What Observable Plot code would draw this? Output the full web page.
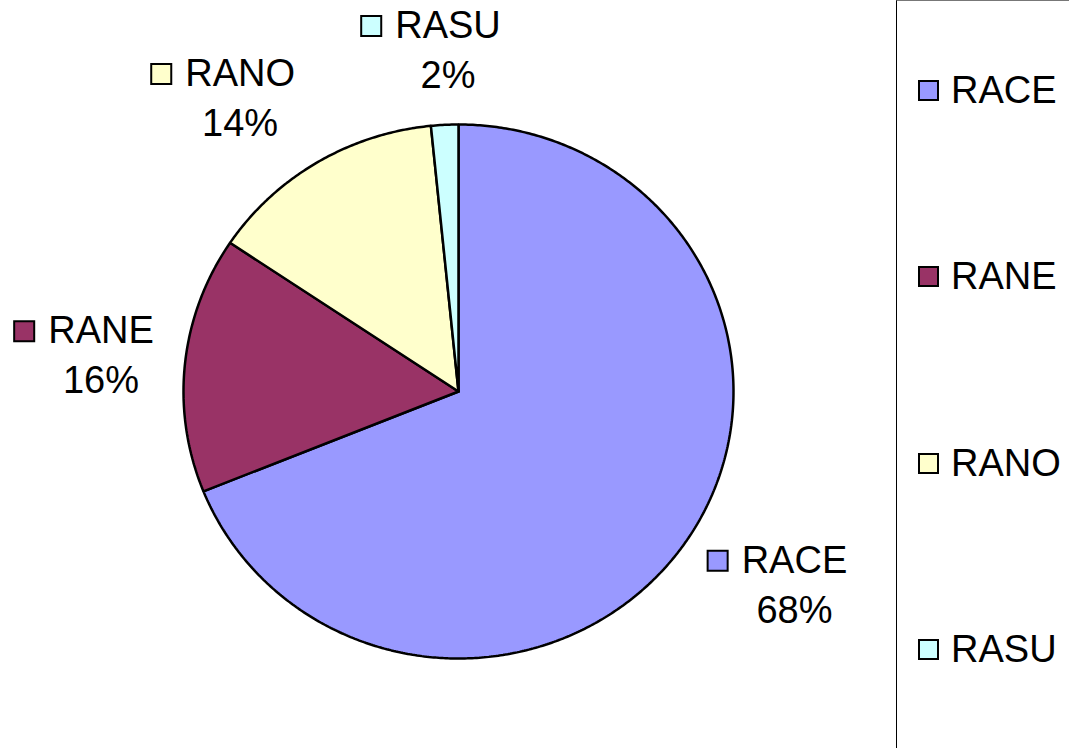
<!DOCTYPE html>
<html>
<head>
<meta charset="utf-8">
<script src="https://cdn.jsdelivr.net/npm/d3@7"></script>
<script src="https://cdn.jsdelivr.net/npm/@observablehq/plot@0.6"></script>
<style>
  html, body { margin: 0; padding: 0; background: #fff; }
  body { width: 1069px; height: 748px; position: relative; overflow: hidden; font-family: "Liberation Sans", Arial, sans-serif; }
  #chart { position: absolute; left: 0; top: 0; }
  #legend {
    position: absolute; left: 896px; top: 0; width: 200px; height: 748px;
    border-left: 1.5px solid #000; border-top: 1px solid #777; box-sizing: border-box;
    padding-top: 69px; padding-bottom: 78px;
    display: flex; flex-direction: column; justify-content: space-between;
  }
  .item { display: flex; align-items: center; height: 40px; padding-left: 21px; font-size: 38px; color: #000; }
  .sw { width: 17px; height: 17px; border: 2px solid #000; margin-right: 12px; flex: none; }
</style>
</head>
<body>
<div id="chart"></div>
<div id="legend"></div>
<script>
// ---- data ----
const categories = ["RACE", "RANE", "RANO", "RASU"];
const values = [68.9, 15.5, 14.0, 1.6];
const percentLabels = ["68%", "16%", "14%", "2%"];
const colors = ["#9999FF", "#993366", "#FFFFCC", "#CCFFFF"];

// ---- layout ----
const W = 1069, H = 748;
const margin = {left: 183, right: W - 733, top: 124, bottom: H - 658};
const rx = 733 - 183, ry = 658 - 124; // pixel spans of domain [-1,1]
const pxX = p => p / (rx / 2), pxY = p => p / (ry / 2);
const fontSize = 38;

const total = d3.sum(values);
let acc = 0;
const slices = categories.map((c, i) => {
  const a0 = acc / total * 2 * Math.PI;
  acc += values[i];
  const a1 = acc / total * 2 * Math.PI;
  return {key: c, a0, a1, mid: (a0 + a1) / 2, label: percentLabels[i]};
});

// polygons (angle clockwise from top; y up)
const poly = [];
for (const s of slices) {
  poly.push({key: s.key, x: 0, y: 0});
  const n = Math.max(2, Math.ceil((s.a1 - s.a0) / (Math.PI / 360)));
  for (let k = 0; k <= n; k++) {
    const a = s.a0 + (s.a1 - s.a0) * k / n;
    poly.push({key: s.key, x: Math.sin(a), y: Math.cos(a)});
  }
  poly.push({key: s.key, x: 0, y: 0});
}

// label placement outside the ellipse
const ctx = document.createElement("canvas").getContext("2d");
ctx.font = `${fontSize}px "Liberation Sans"`;
const clamp = v => Math.max(-1, Math.min(1, v));
const labels = slices.map(s => {
  const sn = Math.sin(s.mid), cs = Math.cos(s.mid);
  const dxPx = 96 * clamp(1.8 * sn);
  const dyPx = -(cs < 0 ? 80 : 74) * cs; // pixel, down positive
  const bx = sn + pxX(dxPx), by = cs - pxY(dyPx);
  const tx = bx + pxX(12);
  const nameW = ctx.measureText(s.key).width;
  return {
    key: s.key, label: s.label,
    tx, nameY: by + pxY(25), pctY: by - pxY(25),
    sqX: tx - pxX(nameW / 2 + 13 + 11)
  };
});

const plot = Plot.plot({
  width: W, height: H,
  marginLeft: margin.left, marginRight: margin.right,
  marginTop: margin.top, marginBottom: margin.bottom,
  x: {domain: [-1, 1], axis: null},
  y: {domain: [-1, 1], axis: null},
  color: {domain: categories, range: colors},
  style: {overflow: "visible", fontFamily: '"Liberation Sans", Arial, sans-serif', background: "transparent"},
  marks: [
    Plot.line(poly, {x: "x", y: "y", z: "key", fill: "key", stroke: "#000", strokeWidth: 2.5, strokeLinejoin: "miter", curve: "linear"}),
    Plot.dot(labels, {x: "sqX", y: "nameY", fill: "key", stroke: "#000", strokeWidth: 2, symbol: "square", r: 11.3}),
    Plot.text(labels, {x: "tx", y: "nameY", text: "key", fontSize, fill: "#000", textAnchor: "middle", lineAnchor: "middle"}),
    Plot.text(labels, {x: "tx", y: "pctY", text: "label", fontSize, fill: "#000", textAnchor: "middle", lineAnchor: "middle"})
  ]
});
document.getElementById("chart").appendChild(plot);

// legend
const legend = document.getElementById("legend");
categories.forEach((c, i) => {
  const it = document.createElement("div");
  it.className = "item";
  const sw = document.createElement("span");
  sw.className = "sw";
  sw.style.background = colors[i];
  const t = document.createElement("span");
  t.textContent = c;
  it.appendChild(sw); it.appendChild(t);
  legend.appendChild(it);
});
</script>
</body>
</html>
